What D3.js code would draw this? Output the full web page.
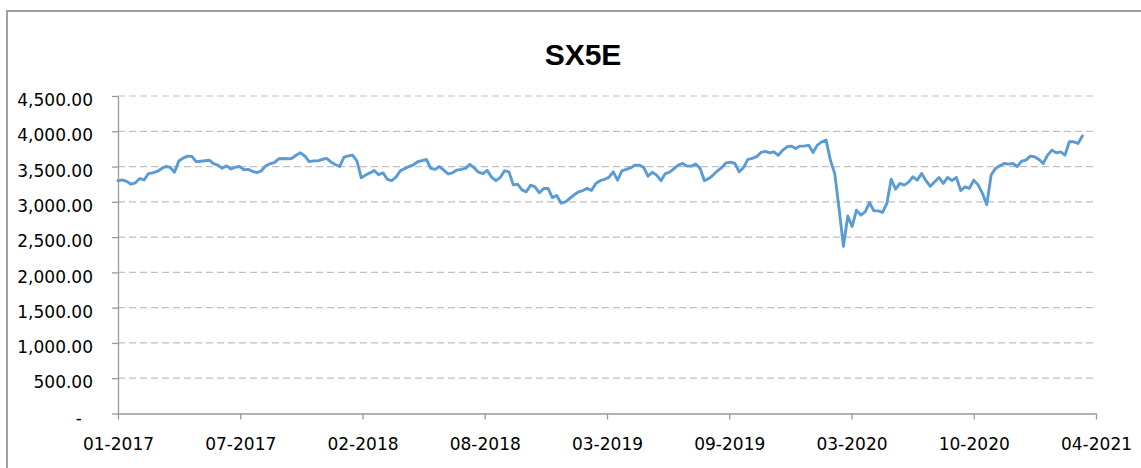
<!DOCTYPE html>
<html>
<head>
<meta charset="utf-8">
<script src="https://cdn.jsdelivr.net/npm/d3@7"></script>
<style>
    body { margin: 0; background: #fff; }
    svg { display: block; }
    .axis text { font-family: "DejaVu Sans", sans-serif; font-size: 17px; fill: #000; }
    .axis path, .axis line { stroke: #9a9a9a; stroke-width: 1.3; }
</style>
</head>
<body>
<div id="chart"></div>
<script>
'use strict';

const chartTitle = "SX5E";

// weekly closes, first one on startDate
const startDate = "2017-01-03";
const weeklyClose = [
    3300, 3310, 3290, 3250, 3270, 3330, 3310, 3400, 3410, 3430,
    3470, 3500, 3490, 3420, 3580, 3620, 3648, 3645, 3570, 3575,
    3582, 3590, 3540, 3520, 3475, 3510, 3465, 3490, 3500, 3455,
    3460, 3430, 3415, 3440, 3510, 3540, 3555, 3610, 3615, 3610,
    3615, 3660, 3695, 3650, 3570, 3580, 3580, 3600, 3615, 3565,
    3530, 3500, 3630, 3650, 3662, 3580, 3340, 3380, 3410, 3445,
    3385, 3410, 3320, 3300, 3350, 3440, 3470, 3500, 3525, 3568,
    3585, 3600, 3474, 3460, 3500, 3450, 3395, 3411, 3450, 3460,
    3474, 3530, 3480, 3420, 3400, 3445, 3350, 3300, 3346, 3440,
    3425, 3240, 3250, 3170, 3142, 3237, 3213, 3128, 3190, 3190,
    3060, 3090, 2980, 3000, 3050, 3100, 3140, 3160, 3190, 3160,
    3261, 3300, 3320, 3346, 3425, 3308, 3440, 3460, 3480, 3520,
    3520, 3490, 3364, 3420, 3379, 3300, 3400, 3420, 3470, 3520,
    3544, 3506, 3506, 3535, 3474, 3300, 3330, 3380, 3440, 3487,
    3553, 3563, 3544, 3425, 3487, 3601, 3615, 3640, 3700, 3715,
    3695, 3709, 3660, 3730, 3780, 3790, 3757, 3790, 3790, 3804,
    3700, 3804, 3850, 3875, 3591, 3400, 2900, 2371, 2800, 2650,
    2882, 2811, 2858, 2990, 2872, 2872, 2850, 2977, 3320, 3180,
    3261, 3237, 3280, 3355, 3308, 3402, 3300, 3220, 3284, 3346,
    3261, 3346, 3300, 3346, 3160, 3213, 3190, 3308, 3240, 3120,
    2960, 3380, 3474, 3510, 3544, 3535, 3544, 3500, 3575, 3591,
    3648, 3639, 3601, 3544, 3662, 3733, 3695, 3709, 3662, 3851,
    3851, 3828, 3932
];

const xTickDates = ["2017-01-03", "2017-07-19", "2018-02-01", "2018-08-17", "2019-03-02",
    "2019-09-15", "2020-03-30", "2020-10-13", "2021-04-28"];
const yTicks = [0, 500, 1000, 1500, 2000, 2500, 3000, 3500, 4000, 4500];


let W = 1141, H = 468;
let margin = { top: 96, right: 45, bottom: 54.5, left: 118 },
    width = W - margin.left - margin.right,
    height = H - margin.top - margin.bottom;

let parseDate = d3.timeParse("%Y-%m-%d");
let formatTick = d3.timeFormat("%m-%Y");
let formatVal = d3.format(",.2f");

let start = parseDate(startDate);
let data = weeklyClose.map(function (v, i) {
    return { date: d3.timeDay.offset(start, 7 * i), value: v };
});
let tickDates = xTickDates.map(parseDate);

let x = d3.scaleTime()
    .domain([tickDates[0], tickDates[tickDates.length - 1]])
    .range([0, width]);

let y = d3.scaleLinear()
    .domain([0, 4500])
    .range([height, 0]);

let svg0 = d3.select("#chart").append("svg")
    .attr("width", W)
    .attr("height", H);

// chart frame (cut off on right and bottom like the screenshot)
svg0.append("rect")
    .attr("x", 7).attr("y", 11)
    .attr("width", 1300).attr("height", 600)
    .attr("fill", "#fff")
    .attr("stroke", "#a0a0a0")
    .attr("stroke-width", 2);

svg0.append("text")
    .attr("x", 583)
    .attr("y", 65)
    .attr("text-anchor", "middle")
    .style("font-family", "'Liberation Sans', Arial, sans-serif")
    .style("font-weight", "bold")
    .style("font-size", "30px")
    .text(chartTitle);

let svg = svg0.append("g")
    .attr("transform", "translate(" + margin.left + "," + margin.top + ")");

// gridlines
svg.append("g")
    .selectAll("line")
    .data(yTicks.filter(function (d) { return d > 0; }))
    .enter().append("line")
    .attr("x1", 0)
    .attr("x2", width)
    .attr("y1", function (d) { return y(d); })
    .attr("y2", function (d) { return y(d); })
    .attr("stroke", "#c0c0c0")
    .attr("stroke-width", 1.2)
    .attr("stroke-dasharray", "7,4");

let yAxis = d3.axisLeft(y)
    .tickValues(yTicks)
    .tickSize(6)
    .tickSizeOuter(0)
    .tickPadding(19)
    .tickFormat(function (d) { return d === 0 ? "-" : formatVal(d); });

let gy = svg.append("g")
    .attr("class", "y axis")
    .call(yAxis);
gy.selectAll("text").attr("dy", "0.57em");
gy.selectAll("text").filter(function (d) { return d === 0; }).attr("dx", -11);

let xAxis = d3.axisBottom(x)
    .tickValues(tickDates)
    .tickSize(6)
    .tickSizeOuter(0)
    .tickPadding(18)
    .tickFormat(formatTick);

svg.append("g")
    .attr("class", "x axis")
    .attr("transform", "translate(0," + height + ")")
    .call(xAxis);

let line = d3.line()
    .x(function (d) { return x(d.date); })
    .y(function (d) { return y(d.value); });

svg.append("path")
    .datum(data)
    .attr("fill", "none")
    .attr("stroke", "#5b9bd5")
    .attr("stroke-width", 2.9)
    .attr("stroke-linejoin", "round")
    .attr("stroke-linecap", "round")
    .attr("d", line);
</script>
</body>
</html>
